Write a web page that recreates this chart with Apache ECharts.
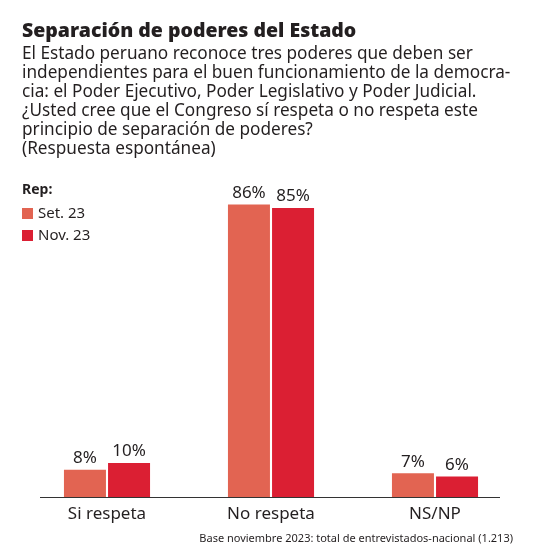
<!DOCTYPE html>
<html><head><meta charset="utf-8">
<script src="https://cdn.jsdelivr.net/npm/echarts@6/dist/echarts.min.js"></script>
<style>html,body{margin:0;padding:0;background:#fff}#c{width:534px;height:552px}</style>
</head><body><div id="c"></div>
<script>
const categories = ['Si respeta', 'No respeta', 'NS/NP'];
const seriesNames = ['Set. 23', 'Nov. 23'];
const setValues = [8, 86, 7];
const novValues = [10, 85, 6];
const titleText = 'Separación de poderes del Estado';
const subText = 'El Estado peruano reconoce tres poderes que deben ser\nindependientes para el buen funcionamiento de la democra-\ncia: el Poder Ejecutivo, Poder Legislativo y Poder Judicial.\n¿Usted cree que el Congreso sí respeta o no respeta este\nprincipio de separación de poderes?\n(Respuesta espontánea)';
const footText = 'Base noviembre 2023: total de entrevistados-nacional (1.213)';

const colors = ['#E26452', '#DB1F33'];
const font = 'Noto Sans';
const chart = echarts.init(document.getElementById('c'));
chart.setOption({
  animation: false,
  title: [
    { text: titleText, left: 17, top: 16, textStyle: { fontFamily: font, fontWeight: 900, fontSize: 19.5, color: '#231f20' } },
    { text: subText, left: 17, top: 40, textStyle: { fontFamily: font, fontWeight: 'normal', fontSize: 17.2, lineHeight: 19, color: '#231f20' } },
    { text: 'Rep:', left: 17, top: 178, textStyle: { fontFamily: font, fontWeight: 'bold', fontSize: 14, color: '#231f20' } },
    { text: footText, right: 16, top: 528, textStyle: { fontFamily: font, fontWeight: 'normal', fontSize: 11, color: '#231f20' } }
  ],
  legend: {
    orient: 'vertical', left: 17, top: 201, itemWidth: 11, itemHeight: 11, itemGap: 7,
    icon: 'rect', data: seriesNames,
    textStyle: { fontFamily: font, fontSize: 15, color: '#231f20' }
  },
  grid: { left: 25, right: 17, top: 157, bottom: 55 },
  xAxis: {
    type: 'category', data: categories,
    axisLine: { show: false }, axisTick: { show: false },
    axisLabel: { fontFamily: font, fontSize: 17, color: '#231f20', margin: 9 }
  },
  yAxis: { type: 'value', min: 0, max: 100, show: false, splitLine: { show: false } },
  graphic: [
    { type: 'line', shape: { x1: 40, y1: 497.5, x2: 500, y2: 497.5 }, style: { stroke: '#333', lineWidth: 1 }, z: 10 }
  ],
  series: [
    { name: seriesNames[0], type: 'bar', data: setValues, barWidth: 42, barGap: '5%', itemStyle: { color: colors[0] },
      label: { show: true, position: 'top', distance: 3, formatter: '{c}%', fontFamily: font, fontSize: 17, color: '#231f20' } },
    { name: seriesNames[1], type: 'bar', data: novValues, barWidth: 42, itemStyle: { color: colors[1] },
      label: { show: true, position: 'top', distance: 3, formatter: '{c}%', fontFamily: font, fontSize: 17, color: '#231f20' } }
  ]
});
</script></body></html>
